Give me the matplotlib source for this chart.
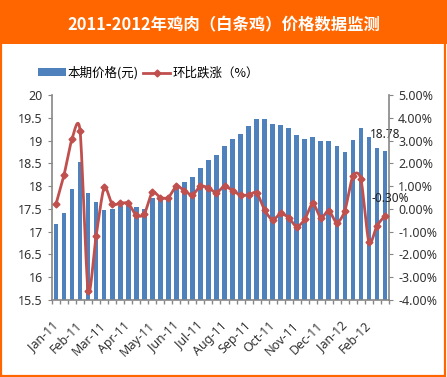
import numpy as np
import matplotlib
matplotlib.use('Agg')
import matplotlib.pyplot as plt
from matplotlib.patches import Rectangle
from matplotlib.transforms import ScaledTranslation

plt.rcParams['font.family'] = ['Noto Sans', 'Noto Sans CJK SC', 'DejaVu Sans']

title = '2011-2012年鸡肉（白条鸡）价格数据监测'
bar_name = '本期价格(元)'
line_name = '环比跌涨（%）'

month_labels = ['Jan-11', 'Feb-11', 'Mar-11', 'Apr-11', 'May-11', 'Jun-11', 'Jul-11',
                'Aug-11', 'Sep-11', 'Oct-11', 'Nov-11', 'Dec-11', 'Jan-12', 'Feb-12']

price = [17.17, 17.41, 17.94, 18.53, 17.85, 17.65, 17.48, 17.50, 17.56, 17.58,
         17.54, 17.50, 17.74, 17.72, 17.72, 17.99, 18.09, 18.20, 18.40, 18.57,
         18.68, 18.88, 19.03, 19.14, 19.32, 19.47, 19.47, 19.36, 19.34, 19.28,
         19.12, 19.03, 19.08, 18.99, 18.99, 18.88, 18.75, 19.01, 19.28, 19.08,
         18.84, 18.78]

change = [0.21, 1.49, 3.08, 3.42, -3.60, -1.18, 0.94, 0.21, 0.25, 0.24,
          -0.28, -0.23, 0.73, 0.50, 0.50, 1.00, 0.80, 0.61, 1.00, 0.92,
          0.71, 1.00, 0.80, 0.61, 0.61, 0.71, -0.05, -0.49, -0.20, -0.39,
          -0.78, -0.46, 0.24, -0.39, -0.08, -0.61, -0.08, 1.44, 1.31, -1.47,
          -0.74, -0.30]

blue = '#4F81BD'
red = '#C0504D'
grey = '#868686'
orange = '#FF6600'
txt = '#333333'


def smooth(x, y, n=16, k=1 / 8):
    # bezier through the points, like the excel smoothed line
    x = np.asarray(x, float)
    y = np.asarray(y, float)
    px = np.concatenate([[x[0]], x, [x[-1]]])
    py = np.concatenate([[y[0]], y, [y[-1]]])
    t = np.linspace(0, 1, n)
    xs, ys = [], []
    for i in range(1, len(px) - 2):
        c1x = px[i] + (px[i + 1] - px[i - 1]) * k
        c1y = py[i] + (py[i + 1] - py[i - 1]) * k
        c2x = px[i + 1] - (px[i + 2] - px[i]) * k
        c2y = py[i + 1] - (py[i + 2] - py[i]) * k
        b0 = (1 - t) ** 3
        b1 = 3 * (1 - t) ** 2 * t
        b2 = 3 * (1 - t) * t ** 2
        b3 = t ** 3
        xs.append(b0 * px[i] + b1 * c1x + b2 * c2x + b3 * px[i + 1])
        ys.append(b0 * py[i] + b1 * c1y + b2 * c2y + b3 * py[i + 1])
    return np.concatenate(xs), np.concatenate(ys)


fig = plt.figure(figsize=(4.47, 3.77), dpi=100)
fig.patch.set_facecolor('white')

# title bar and orange frame
fig.add_artist(Rectangle((0, 1 - 44 / 377), 1, 44 / 377, transform=fig.transFigure,
                         facecolor=orange, edgecolor='none'))
fig.add_artist(Rectangle((0.002, 0.003), 0.994, 0.99, transform=fig.transFigure,
                         facecolor='none', edgecolor=orange, linewidth=1.6))
fig.text(0.5, 1 - 25 / 377, title, color='white', fontsize=11.8, fontweight='bold',
         ha='center', va='center', family=['Noto Sans CJK SC', 'DejaVu Sans'])

ax = fig.add_axes([52 / 447, 1 - 300 / 377, 337 / 447, 205 / 377])
x = np.arange(len(price))
ax.bar(x, price, width=0.58, color=blue, zorder=2)
ax.set_ylim(15.5, 20)
ax.set_yticks(np.arange(15.5, 20.01, 0.5))
ax.set_yticklabels([f'{v:g}' for v in np.arange(15.5, 20.01, 0.5)])
ax.set_xlim(-0.5, len(price) - 0.5)
ax.set_xticks(x[::3])
ax.set_xticklabels(month_labels, rotation=45, ha='right', va='center', rotation_mode='anchor')
for lab in ax.get_xticklabels():
    lab.set_transform(lab.get_transform() + ScaledTranslation(3 / 100, 0, fig.dpi_scale_trans))
ax.set_xticks(np.arange(-0.5, len(price), 1), minor=True)
ax.tick_params(axis='x', which='major', length=0, pad=17, labelsize=9, colors=txt)
ax.tick_params(axis='x', which='minor', length=3, color=grey, width=1)
ax.tick_params(axis='y', length=3, color=grey, labelsize=9, labelcolor=txt)
for s in ['top', 'right']:
    ax.spines[s].set_visible(False)
ax.spines['left'].set_color(grey)
ax.spines['bottom'].set_color(grey)
ax.spines['left'].set_linewidth(1.2)
ax.spines['bottom'].set_linewidth(1.2)
ax.text(x[-1] - 1.9, price[-1] + 0.36, f'{price[-1]:.2f}', fontsize=8.5, color='#222222',
        ha='left', va='center')

ax2 = ax.twinx()
sx, sy = smooth(x, change)
ax2.plot(sx, sy, color=red, linewidth=2, zorder=3)
ax2.plot(x, change, linestyle='none', marker='D', markersize=3.5, color=red, zorder=4)
ax2.set_ylim(-4, 5)
ax2.set_yticks(np.arange(-4, 5.01, 1))
ax2.set_yticklabels([f'{v:.2f}%' for v in np.arange(-4, 5.01, 1)])
ax2.tick_params(axis='y', length=3, color=grey, labelsize=9, labelcolor=txt)
for s in ['top', 'left', 'bottom']:
    ax2.spines[s].set_visible(False)
ax2.spines['right'].set_color(grey)
ax2.spines['right'].set_linewidth(1.2)
ax2.text(x[-1] - 1.7, change[-1] + 0.75, f'{change[-1]:.2f}%', fontsize=8.5, color='#222222',
         ha='left', va='center')

h1 = Rectangle((0, 0), 1, 1, facecolor=blue)
h2 = plt.Line2D([], [], color=red, linewidth=2, marker='D', markersize=3.5)
fig.legend([h1, h2], [bar_name, line_name], loc='center left',
           bbox_to_anchor=(38 / 447, 1 - 73 / 377), ncol=2, frameon=False,
           handlelength=2.2, handleheight=0.6, columnspacing=0.3,
           handletextpad=0.2, borderpad=0, borderaxespad=0,
           prop={'family': ['Noto Sans CJK SC', 'DejaVu Sans'], 'size': 9})

fig.savefig('out.png', dpi=100)
